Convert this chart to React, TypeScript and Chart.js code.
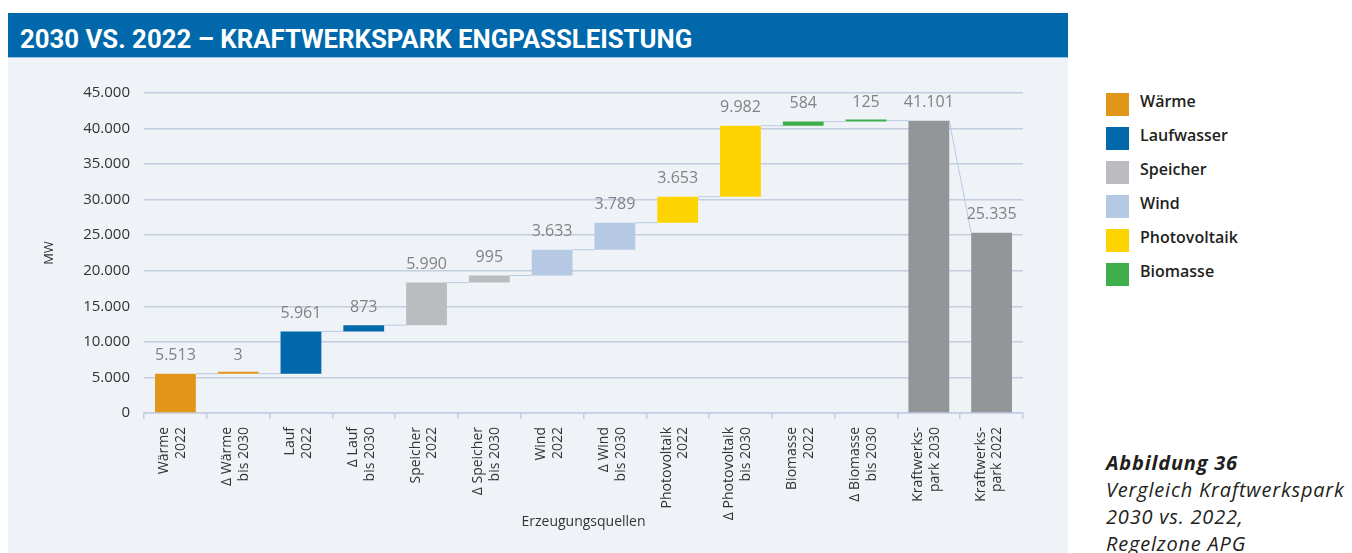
import React, { useEffect, useLayoutEffect, useRef } from "react";
import { Chart, registerables } from "chart.js";

Chart.register(...registerables);

// Category labels (two lines each, drawn rotated under the axis)
const categories: string[][] = [
  ["Wärme", "2022"],
  ["Δ Wärme", "bis 2030"],
  ["Lauf", "2022"],
  ["Δ Lauf", "bis 2030"],
  ["Speicher", "2022"],
  ["Δ Speicher", "bis 2030"],
  ["Wind", "2022"],
  ["Δ Wind", "bis 2030"],
  ["Photovoltaik", "2022"],
  ["Δ Photovoltaik", "bis 2030"],
  ["Biomasse", "2022"],
  ["Δ Biomasse", "bis 2030"],
  ["Kraftwerks-", "park 2030"],
  ["Kraftwerks-", "park 2022"],
];

// Waterfall steps in MW: stock 2022 and change until 2030 per source
const steps: number[] = [5513, 3, 5961, 873, 5990, 995, 3633, 3789, 3653, 9982, 584, 125];
const total2030 = 41101;
const total2022 = 25335;

// Generation sources and their colours (each owns two consecutive steps)
const sources: string[] = ["Wärme", "Laufwasser", "Speicher", "Wind", "Photovoltaik", "Biomasse"];
const sourceColors: string[] = ["#E1961A", "#0068AB", "#BBBCBF", "#B5C9E5", "#FDD300", "#3DAE49"];
const totalColor = "#939598";

const yMax = 45000;
const yStep = 5000;

const titleText = "2030 VS. 2022 – KRAFTWERKSPARK ENGPASSLEISTUNG";
const captionHead = "Abbildung 36";
const captionLines: string[] = ["Vergleich Kraftwerkspark", "2030 vs. 2022,", "Regelzone APG"];

const FONT = "'Open Sans', 'Liberation Sans', sans-serif";
const gridColor = "#C3CEE0";
const textColor = "#333333";
const labelColor = "#808285";
const connectorColor = "#B7C9E2";

const fmt = (v: number) => String(Math.round(v)).replace(/\B(?=(\d{3})+(?!\d))/g, ".");

// Floating bar ranges built from the steps, then the two totals from zero
const ranges: [number, number][] = [];
{
  let acc = 0;
  for (const s of steps) {
    ranges.push([acc, acc + s]);
    acc += s;
  }
  ranges.push([0, total2030]);
  ranges.push([0, total2022]);
}
const labelValues: number[] = [...steps, total2030, total2022];
const barColors: string[] = [
  ...steps.map((_, i) => sourceColors[Math.floor(i / 2)]),
  totalColor,
  totalColor,
];

// Thin lines joining the top of each bar to the start of the next one
const connectorPlugin = {
  id: "waterfallConnectors",
  beforeDatasetsDraw(chart: any) {
    const meta = chart.getDatasetMeta(0);
    const y = chart.scales.y;
    const ctx = chart.ctx;
    ctx.save();
    ctx.strokeStyle = connectorColor;
    ctx.lineWidth = 1;
    for (let i = 0; i < ranges.length - 1; i++) {
      const a = meta.data[i];
      const b = meta.data[i + 1];
      const fromY = y.getPixelForValue(ranges[i][1]);
      const nextIsStep = i + 1 < steps.length;
      const toY = y.getPixelForValue(nextIsStep ? ranges[i + 1][0] : ranges[i + 1][1]);
      ctx.beginPath();
      ctx.moveTo(a.x + a.width / 2, fromY);
      ctx.lineTo(b.x - b.width / 2, toY);
      ctx.stroke();
    }
    ctx.restore();
  },
};

// Value captions above each bar
const valueLabelPlugin = {
  id: "valueLabels",
  afterDatasetsDraw(chart: any) {
    const meta = chart.getDatasetMeta(0);
    const y = chart.scales.y;
    const ctx = chart.ctx;
    ctx.save();
    ctx.fillStyle = labelColor;
    ctx.font = `16px ${FONT}`;
    ctx.textAlign = "center";
    ctx.textBaseline = "middle";
    meta.data.forEach((bar: any, i: number) => {
      const top = y.getPixelForValue(Math.max(ranges[i][0], ranges[i][1]));
      ctx.fillText(fmt(labelValues[i]), bar.x, top - 18);
    });
    ctx.restore();
  },
};

function WaterfallChart() {
  const ref = useRef<HTMLCanvasElement | null>(null);
  useEffect(() => {
    if (!ref.current) return;
    const chart = new Chart(ref.current, {
      type: "bar",
      data: {
        labels: categories,
        datasets: [
          {
            data: ranges as any,
            backgroundColor: barColors,
            borderWidth: 0,
            barPercentage: 0.65,
            categoryPercentage: 1,
            minBarLength: 2,
          },
        ],
      },
      options: {
        responsive: false,
        animation: false,
        layout: { padding: { left: 0, right: 45, top: 35, bottom: 0 } },
        plugins: { legend: { display: false }, tooltip: { enabled: false } },
        scales: {
          x: {
            offset: true,
            grid: {
              display: true,
              drawOnChartArea: false,
              drawTicks: true,
              tickLength: 6,
              color: gridColor,
              lineWidth: 1.5,
              offset: true,
            },
            border: { display: true, color: gridColor, width: 1.5 },
            ticks: {
              autoSkip: false,
              maxRotation: 90,
              minRotation: 90,
              padding: 8,
              labelOffset: -11,
              color: textColor,
              font: { family: FONT, size: 14, lineHeight: 1.2 },
            },
            title: {
              display: true,
              text: "Erzeugungsquellen",
              color: textColor,
              font: { family: FONT, size: 14 },
              padding: { top: 0, bottom: 23 },
            },
            afterFit: (s: any) => {
              s.height = 140;
            },
          },
          y: {
            min: 0,
            max: yMax,
            ticks: {
              stepSize: yStep,
              padding: 14,
              color: textColor,
              font: { family: FONT, size: 15 },
              callback: (v: any) => fmt(Number(v)),
            },
            grid: { color: gridColor, lineWidth: 1.5, drawTicks: false },
            border: { display: false },
            title: {
              display: true,
              text: "MW",
              color: textColor,
              font: { family: FONT, size: 13 },
              padding: { top: 33, bottom: 0 },
            },
            afterFit: (s: any) => {
              s.width = 136;
            },
          },
        },
      },
      plugins: [connectorPlugin, valueLabelPlugin],
    });
    return () => chart.destroy();
  }, []);
  return <canvas ref={ref} width={1060} height={495} style={{ display: "block" }} />;
}

// Heading set in a bold face, squeezed horizontally to a condensed width
function TitleBar() {
  const span = useRef<HTMLSpanElement | null>(null);
  useLayoutEffect(() => {
    const el = span.current;
    if (!el) return;
    el.style.transform = "none";
    const w = el.offsetWidth;
    if (w > 0) el.style.transform = `scaleX(${672 / w})`;
  }, []);
  return (
    <div
      style={{
        position: "absolute",
        left: 8,
        top: 13,
        width: 1060,
        height: 45,
        background: "#0068AB",
        borderBottom: "1px solid #9CC0E0",
        color: "#ffffff",
        paddingLeft: 12,
        boxSizing: "border-box",
        overflow: "hidden",
      }}
    >
      <span
        ref={span}
        style={{
          display: "inline-block",
          fontFamily: "Roboto, 'Liberation Sans', sans-serif",
          fontWeight: 700,
          fontSize: 25,
          lineHeight: "53px",
          whiteSpace: "nowrap",
          transformOrigin: "left center",
        }}
      >
        {titleText}
      </span>
    </div>
  );
}

export default function App() {
  return (
    <div
      style={{
        position: "fixed",
        left: 0,
        top: 0,
        width: 1352,
        height: 553,
        overflow: "hidden",
        background: "#ffffff",
        fontFamily: FONT,
      }}
    >
      <TitleBar />
      <div
        style={{
          position: "absolute",
          left: 8,
          top: 58,
          width: 1060,
          height: 495,
          background: "#EFF3F8",
        }}
      >
        <WaterfallChart />
      </div>
      {sources.map((name, i) => (
        <div key={name} style={{ position: "absolute", left: 1106, top: 93 + 34 * i, height: 23 }}>
          <div style={{ position: "absolute", left: 0, top: 0, width: 23, height: 23, background: sourceColors[i] }} />
          <div
            style={{
              position: "absolute",
              left: 34,
              top: -3,
              lineHeight: "23px",
              fontSize: 16,
              fontWeight: 600,
              color: "#231F20",
              whiteSpace: "nowrap",
            }}
          >
            {name}
          </div>
        </div>
      ))}
      <div
        style={{
          position: "absolute",
          left: 1106,
          top: 449,
          fontSize: 20,
          letterSpacing: 0.8,
          lineHeight: "27px",
          fontStyle: "italic",
          color: "#231F20",
          whiteSpace: "nowrap",
        }}
      >
        <div style={{ fontWeight: 700 }}>{captionHead}</div>
        {captionLines.map((t) => (
          <div key={t}>{t}</div>
        ))}
      </div>
    </div>
  );
}
